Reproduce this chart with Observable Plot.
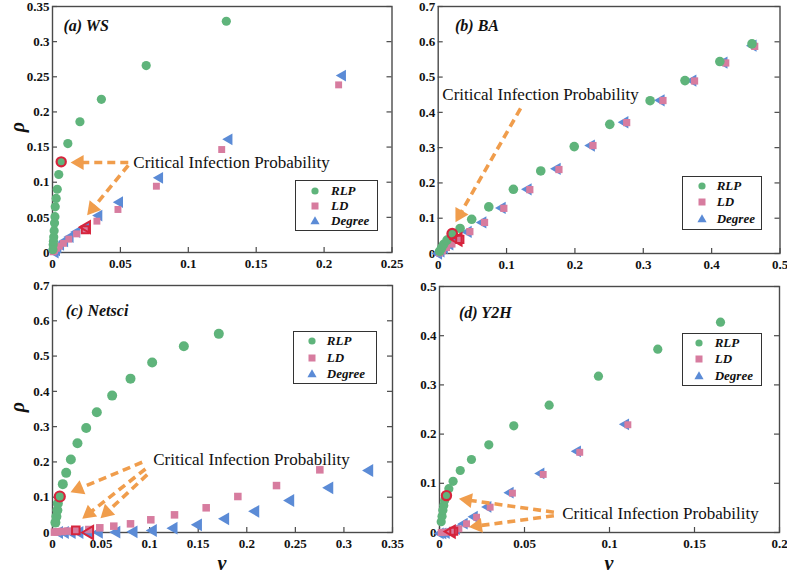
<!DOCTYPE html>
<html>
<head>
<meta charset="utf-8">
<script src="https://cdn.jsdelivr.net/npm/d3@7"></script>
<script src="https://cdn.jsdelivr.net/npm/@observablehq/plot@0.6"></script>
<style>
  html, body { margin: 0; padding: 0; background: #fff; }
  #root { position: relative; width: 787px; height: 576px; background: #fff; overflow: hidden; font-family: "Liberation Serif", "Times New Roman", serif; }
  .panel { position: absolute; }
  .title { position: absolute; font-family: "Liberation Serif", "Times New Roman", serif; font-style: italic; font-weight: bold; font-size: 16px; color: #111; line-height: 16px; transform: translateY(-50%); white-space: nowrap; }
  .axlab { position: absolute; font-family: "Liberation Serif", "Times New Roman", serif; font-style: italic; font-weight: bold; font-size: 20px; color: #111; line-height: 14px; white-space: nowrap; }
  .legend { position: absolute; border: 1px solid #333; background: #fff; box-sizing: border-box; }
  .legend .row { position: absolute; left: 0; height: 16px; transform: translateY(-50%); font-family: "Liberation Serif", "Times New Roman", serif; font-style: italic; font-weight: bold; font-size: 13px; color: #111; line-height: 16px; white-space: nowrap; }
  .legend svg { position: absolute; top: 0; }
</style>
</head>
<body>
<div id="root"></div>
<script>
// ---------- colours ----------
const cRLP = "#5fb47b", cLD = "#d77c9f", cDeg = "#5b8bd6", cOrange = "#f09d4c", cRed = "#d6243c";
const serifFamily = "'Liberation Serif', 'Times New Roman', serif";

// ---------- (a) WS ----------
const wsRlpX = [0.0003, 0.0005, 0.0007, 0.0009, 0.0012, 0.0015, 0.0018, 0.0020, 0.0027, 0.0035, 0.0046, 0.0064, 0.0113, 0.0202, 0.036, 0.069, 0.128];
const wsRlpY = [0.004, 0.011, 0.016, 0.022, 0.031, 0.042, 0.051, 0.065, 0.077, 0.090, 0.111, 0.129, 0.155, 0.186, 0.218, 0.266, 0.329];
const wsLdX = [0.0005, 0.0015, 0.003, 0.005, 0.008, 0.012, 0.0177, 0.0241, 0.0327, 0.0482, 0.0765, 0.1246, 0.2107];
const wsLdY = [0.001, 0.003, 0.006, 0.009, 0.013, 0.019, 0.0265, 0.0323, 0.0446, 0.0612, 0.0943, 0.1465, 0.2385];
const wsDegX = [0.002, 0.003, 0.004, 0.006, 0.009, 0.013, 0.018, 0.0251, 0.0342, 0.0494, 0.0789, 0.130, 0.2136];
const wsDegY = [0.000, 0.003, 0.007, 0.011, 0.016, 0.022, 0.029, 0.036, 0.0526, 0.0716, 0.1063, 0.161, 0.2518];
const wsCritRlp = [0.0064, 0.129], wsCritLd = [0.0241, 0.0323], wsCritDeg = [0.0251, 0.036];
const wsArrowX1 = [0.0558, 0.0558], wsArrowY1 = [0.128, 0.124], wsArrowX2 = [0.0133, 0.0255], wsArrowY2 = [0.128, 0.053];
const wsTextPos = [0.0595, 0.1285];
const wsXTicks = [0, 0.05, 0.1, 0.15, 0.2, 0.25];
const wsYTicks = [0, 0.05, 0.1, 0.15, 0.2, 0.25, 0.3, 0.35];

// ---------- (b) BA ----------
const baRlpX = [0.002, 0.005, 0.008, 0.013, 0.0205, 0.0320, 0.049, 0.0740, 0.110, 0.150, 0.199, 0.251, 0.310, 0.361, 0.412, 0.459];
const baRlpY = [0.006, 0.016, 0.026, 0.038, 0.056, 0.071, 0.097, 0.132, 0.182, 0.234, 0.303, 0.366, 0.433, 0.490, 0.544, 0.594];
const baLdX = [0.002, 0.006, 0.012, 0.020, 0.0316, 0.0463, 0.0678, 0.096, 0.134, 0.1766, 0.2264, 0.2757, 0.3288, 0.375, 0.4206, 0.463];
const baLdY = [0.002, 0.008, 0.017, 0.027, 0.040, 0.062, 0.088, 0.128, 0.181, 0.238, 0.306, 0.371, 0.4335, 0.489, 0.540, 0.587];
const baDegX = [0.0005, 0.004, 0.009, 0.017, 0.029, 0.0438, 0.0653, 0.0935, 0.1315, 0.174, 0.224, 0.273, 0.326, 0.3725, 0.418, 0.4605];
const baDegY = [0.000, 0.006, 0.015, 0.026, 0.040, 0.061, 0.088, 0.129, 0.182, 0.240, 0.306, 0.372, 0.434, 0.490, 0.541, 0.589];
const baCritRlp = [0.0205, 0.056], baCritLd = [0.0316, 0.040], baCritDeg = [0.029, 0.040];
const baArrowX1 = [0.1205], baArrowY1 = [0.411], baArrowX2 = [0.0253], baArrowY2 = [0.0887];
const baTextPos = [0.006, 0.45];
const baXTicks = [0, 0.1, 0.2, 0.3, 0.4, 0.5];
const baYTicks = [0, 0.1, 0.2, 0.3, 0.4, 0.5, 0.6, 0.7];

// ---------- (c) Netsci ----------
const ncRlpX = [0.003, 0.004, 0.005, 0.0055, 0.0075, 0.0106, 0.0141, 0.0189, 0.0257, 0.0347, 0.0456, 0.0614, 0.0803, 0.1026, 0.1352, 0.1712];
const ncRlpY = [0.028, 0.045, 0.063, 0.082, 0.102, 0.137, 0.169, 0.207, 0.253, 0.296, 0.341, 0.388, 0.436, 0.482, 0.528, 0.563];
const ncLdX = [0.002, 0.005, 0.010, 0.016, 0.024, 0.0374, 0.0487, 0.0631, 0.0803, 0.1012, 0.1256, 0.1582, 0.1908, 0.2306, 0.2752];
const ncLdY = [0.001, 0.002, 0.003, 0.004, 0.006, 0.0085, 0.0133, 0.018, 0.0246, 0.036, 0.050, 0.070, 0.102, 0.133, 0.1776];
const ncDegX = [0.007, 0.013, 0.020, 0.028, 0.038, 0.048, 0.066, 0.0837, 0.1036, 0.1249, 0.150, 0.178, 0.209, 0.245, 0.2852, 0.3263];
const ncDegY = [0.000, 0.000, 0.000, 0.000, 0.000, 0.0005, 0.001, 0.002, 0.0057, 0.0123, 0.0217, 0.0387, 0.060, 0.0907, 0.1266, 0.1757];
const ncCritRlp = [0.0075, 0.102], ncCritLd = [0.024, 0.006], ncCritDeg = [0.038, 0.000];
const ncArrowX1 = [0.0923, 0.0957, 0.0975], ncArrowY1 = [0.199, 0.180, 0.164], ncArrowX2 = [0.0185, 0.0306, 0.0494], ncArrowY2 = [0.114, 0.039, 0.0405];
const ncTextPos = [0.1037, 0.207];
const ncXTicks = [0, 0.05, 0.1, 0.15, 0.2, 0.25, 0.3, 0.35];
const ncYTicks = [0, 0.1, 0.2, 0.3, 0.4, 0.5, 0.6, 0.7];

// ---------- (d) Y2H ----------
const y2hRlpX = [0.001, 0.0015, 0.002, 0.0025, 0.003, 0.0041, 0.0055, 0.008, 0.0122, 0.0188, 0.029, 0.0437, 0.0645, 0.0935, 0.1284, 0.1653];
const y2hRlpY = [0.022, 0.033, 0.045, 0.055, 0.065, 0.075, 0.089, 0.104, 0.126, 0.1484, 0.1782, 0.2168, 0.2588, 0.3177, 0.3726, 0.4274];
const y2hLdX = [0.001, 0.003, 0.005, 0.0084, 0.0114, 0.0159, 0.0218, 0.0298, 0.0429, 0.061, 0.0825, 0.1108];
const y2hLdY = [0.000, 0.0005, 0.001, 0.0027, 0.0075, 0.0177, 0.031, 0.0515, 0.080, 0.118, 0.163, 0.219];
const y2hDegX = [0.0005, 0.002, 0.004, 0.007, 0.010, 0.0146, 0.0205, 0.0285, 0.0416, 0.0597, 0.0812, 0.1095];
const y2hDegY = [-0.002, -0.002, -0.001, 0.002, 0.007, 0.018, 0.032, 0.052, 0.081, 0.120, 0.165, 0.220];
const y2hCritRlp = [0.0041, 0.075], y2hCritLd = [0.0084, 0.0027], y2hCritDeg = [0.007, 0.002];
const y2hArrowX1 = [0.0673, 0.0673], y2hArrowY1 = [0.0413, 0.034], y2hArrowX2 = [0.0114, 0.0173], y2hArrowY2 = [0.0685, 0.011];
const y2hTextPos = [0.0722, 0.039];
const y2hXTicks = [0, 0.05, 0.1, 0.15, 0.2];
const y2hYTicks = [0, 0.1, 0.2, 0.3, 0.4, 0.5];

const seriesNames = ["RLP", "LD", "Degree"];
const annotationText = "Critical Infection Probability";
const panelTitles = ["(a) WS", "(b) BA", "(c) Netsci", "(d) Y2H"];

// ---------- helpers ----------
const zip = (xs, ys) => xs.map((x, i) => ({x, y: ys[i]}));
const fmt = d => (d === 0 ? "0" : String(d));

function makePanel(cfg) {
  const {width, height, ml, mr, mt, mb, xd, yd, xTicks, yTicks, rlp, ld, deg, crit, arrows, textPos, dotR} = cfg;
  const innerW = width - ml - mr, innerH = height - mt - mb;
  const px = x => ml + (x - xd[0]) / (xd[1] - xd[0]) * innerW;
  const py = y => height - mb - (y - yd[0]) / (yd[1] - yd[0]) * innerH;
  const ix = p => xd[0] + (p - ml) / innerW * (xd[1] - xd[0]);
  const iy = p => yd[0] + (height - mb - p) / innerH * (yd[1] - yd[0]);
  const headR = 5.6;
  const side = Math.sqrt(4 * Math.PI * headR * headR / Math.sqrt(3));
  const hh = side * Math.sqrt(3) / 2;
  const shafts = [], heads = [];
  arrows.forEach(a => {
    const dx = px(a.x2) - px(a.x1), dy = py(a.y2) - py(a.y1);
    const L = Math.hypot(dx, dy), ux = dx / L, uy = dy / L;
    const tipX = px(a.x2), tipY = py(a.y2);
    const cx = tipX - ux * (2 * hh / 3), cy = tipY - uy * (2 * hh / 3);
    const ex = tipX - ux * hh * 0.9, ey = tipY - uy * hh * 0.9;
    shafts.push({x1: a.x1, y1: a.y1, x2: ix(ex), y2: iy(ey)});
    heads.push({x: ix(cx), y: iy(cy), rot: Math.atan2(dy, dx) * 180 / Math.PI + 90});
  });
  const tickLen = 5;
  return Plot.plot({
    width, height,
    marginLeft: ml, marginRight: mr, marginTop: mt, marginBottom: mb,
    x: {domain: xd, nice: false},
    y: {domain: yd, nice: false},
    style: {fontFamily: serifFamily, fontSize: "13px", fontWeight: "bold", color: "#111", background: "transparent", overflow: "visible"},
    marks: [
      Plot.frame({stroke: "#4a4a4a", strokeWidth: 1.4}),
      Plot.ruleX(xTicks, {insetTop: innerH - tickLen, stroke: "#4a4a4a", strokeWidth: 1.2}),
      Plot.ruleY(yTicks, {insetRight: innerW - tickLen, stroke: "#4a4a4a", strokeWidth: 1.2}),
      Plot.ruleY(yTicks, {insetLeft: innerW - tickLen, stroke: "#4a4a4a", strokeWidth: 1.2}),
      Plot.axisX({ticks: xTicks, tickSize: 0, tickPadding: 6, tickFormat: fmt, label: null, fill: "#111", fontFamily: serifFamily, fontWeight: "bold", fontSize: 13}),
      Plot.axisY({ticks: yTicks, tickSize: 0, tickPadding: 3, tickFormat: fmt, label: null, fill: "#111", fontFamily: serifFamily, fontWeight: "bold", fontSize: 13}),
      Plot.dot(deg, {x: "x", y: "y", symbol: "triangle", rotate: -90, r: dotR * 0.95, fill: cDeg}),
      Plot.dot(ld, {x: "x", y: "y", symbol: "square", r: dotR * 0.85, fill: cLD}),
      Plot.dot(rlp, {x: "x", y: "y", symbol: "circle", r: dotR, fill: cRLP}),
      Plot.dot([crit.deg], {x: d => d[0], y: d => d[1], symbol: "triangle", rotate: -90, r: dotR * 0.95, fill: "none", stroke: cRed, strokeWidth: 2}),
      Plot.dot([crit.ld], {x: d => d[0], y: d => d[1], symbol: "square", r: dotR * 0.85, fill: "none", stroke: cRed, strokeWidth: 2}),
      Plot.dot([crit.rlp], {x: d => d[0], y: d => d[1], symbol: "circle", r: dotR, fill: "none", stroke: cRed, strokeWidth: 2.2}),
      Plot.link(shafts, {x1: "x1", y1: "y1", x2: "x2", y2: "y2", stroke: cOrange, strokeWidth: 3.6, strokeDasharray: "8,5", strokeLinecap: "butt"}),
      Plot.dot(heads, {x: "x", y: "y", symbol: "triangle", rotate: "rot", r: headR, fill: cOrange, stroke: "none"}),
      Plot.text([textPos], {x: d => d[0], y: d => d[1], text: () => annotationText, textAnchor: "start", lineAnchor: "middle", fontSize: 17, fontWeight: "normal", fontFamily: serifFamily, fill: "#111"})
    ]
  });
}

function arrowsOf(x1, y1, x2, y2) { return x1.map((v, i) => ({x1: v, y1: y1[i], x2: x2[i], y2: y2[i]})); }

const panels = [
  {left: 0, top: 0, width: 400, height: 275, ml: 52, mr: 8.5, mt: 6, mb: 23, xd: [0, 0.25], yd: [0, 0.35],
   xTicks: wsXTicks, yTicks: wsYTicks, rlp: zip(wsRlpX, wsRlpY), ld: zip(wsLdX, wsLdY), deg: zip(wsDegX, wsDegY),
   crit: {rlp: wsCritRlp, ld: wsCritLd, deg: wsCritDeg}, arrows: arrowsOf(wsArrowX1, wsArrowY1, wsArrowX2, wsArrowY2), textPos: wsTextPos, dotR: 4.6,
   title: [63.5, 26], legend: {left: 295, top: 180, w: 83, h: 51, rows: [11, 26, 41], sx: 20, tx: 36}},
  {left: 390, top: 0, width: 397, height: 275, ml: 47.7, mr: 7.5, mt: 6, mb: 22, xd: [0, 0.5], yd: [0, 0.7],
   xTicks: baXTicks, yTicks: baYTicks, rlp: zip(baRlpX, baRlpY), ld: zip(baLdX, baLdY), deg: zip(baDegX, baDegY),
   crit: {rlp: baCritRlp, ld: baCritLd, deg: baCritDeg}, arrows: arrowsOf(baArrowX1, baArrowY1, baArrowX2, baArrowY2), textPos: baTextPos, dotR: 4.8,
   title: [455, 26], legend: {left: 681.7, top: 176, w: 80, h: 54, rows: [9.5, 26, 43], sx: 20, tx: 35}},
  {left: 0, top: 270, width: 400, height: 306, ml: 52, mr: 8, mt: 15, mb: 44, xd: [0, 0.35], yd: [0, 0.7],
   xTicks: ncXTicks, yTicks: ncYTicks, rlp: zip(ncRlpX, ncRlpY), ld: zip(ncLdX, ncLdY), deg: zip(ncDegX, ncDegY),
   crit: {rlp: ncCritRlp, ld: ncCritLd, deg: ncCritDeg}, arrows: arrowsOf(ncArrowX1, ncArrowY1, ncArrowX2, ncArrowY2), textPos: ncTextPos, dotR: 5,
   title: [65.7, 310.7], legend: {left: 293.3, top: 331, w: 83.5, h: 52.5, rows: [10, 26.5, 43], sx: 19, tx: 33.5}},
  {left: 390, top: 270, width: 397, height: 306, ml: 49, mr: 8, mt: 16, mb: 44, xd: [0, 0.2], yd: [0, 0.5],
   xTicks: y2hXTicks, yTicks: y2hYTicks, rlp: zip(y2hRlpX, y2hRlpY), ld: zip(y2hLdX, y2hLdY), deg: zip(y2hDegX, y2hDegY),
   crit: {rlp: y2hCritRlp, ld: y2hCritLd, deg: y2hCritDeg}, arrows: arrowsOf(y2hArrowX1, y2hArrowY1, y2hArrowX2, y2hArrowY2), textPos: y2hTextPos, dotR: 4.6,
   title: [459, 313.3], legend: {left: 681.7, top: 333.3, w: 80, h: 53, rows: [10, 26, 42.7], sx: 17.5, tx: 33}}
];

const root = document.getElementById("root");

panels.forEach((p, i) => {
  const div = document.createElement("div");
  div.className = "panel";
  div.style.left = p.left + "px";
  div.style.top = p.top + "px";
  div.appendChild(makePanel(p));
  root.appendChild(div);

  const t = document.createElement("div");
  t.className = "title";
  t.style.left = p.title[0] + "px";
  t.style.top = p.title[1] + "px";
  t.textContent = panelTitles[i];
  root.appendChild(t);

  // legend
  const lg = document.createElement("div");
  lg.className = "legend";
  Object.assign(lg.style, {left: p.legend.left + "px", top: p.legend.top + "px", width: p.legend.w + "px", height: p.legend.h + "px"});
  const colors = [cRLP, cLD, cDeg];
  const shapes = [
    c => `<circle cx="8" cy="8" r="3.6" fill="${c}"/>`,
    c => `<rect x="4.5" y="4.5" width="7" height="7" fill="${c}"/>`,
    c => `<path d="M8,3.2 L12.6,11.2 L3.4,11.2 Z" fill="${c}"/>`
  ];
  seriesNames.forEach((name, k) => {
    const row = document.createElement("div");
    row.className = "row";
    row.style.top = (p.legend.rows[k] - 1) + "px";
    row.innerHTML = `<svg width="16" height="16" style="left:${p.legend.sx - 9}px">${shapes[k](colors[k])}</svg><span style="position:absolute;left:${p.legend.tx - 1}px">${name}</span>`;
    lg.appendChild(row);
  });
  root.appendChild(lg);
});

// axis labels
function addLabel(txt, cx, cy, rot) {
  const d = document.createElement("div");
  d.className = "axlab";
  d.textContent = txt;
  d.style.left = cx + "px";
  d.style.top = cy + "px";
  d.style.transform = `translate(-50%, -50%)` + (rot ? ` rotate(${rot}deg)` : "");
  root.appendChild(d);
}
addLabel("ρ", 17, 127, -90);
addLabel("ρ", 17, 407, -90);
addLabel("ν", 222, 563, 0);
addLabel("ν", 609, 563, 0);
</script>
</body>
</html>
